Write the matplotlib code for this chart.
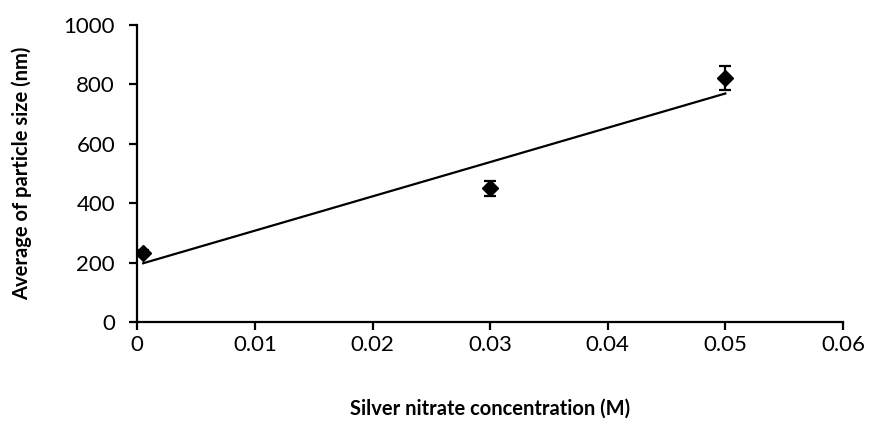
import numpy as np
import matplotlib
matplotlib.use("Agg")
import matplotlib.pyplot as plt

# silver nitrate concentration (M) vs. mean particle size (nm)
conc = [0.0005, 0.03, 0.05]
size_nm = [234, 450, 822]
size_err = [10, 24, 41]

x_ticks = [0, 0.01, 0.02, 0.03, 0.04, 0.05, 0.06]
x_labels = ["0", "0.01", "0.02", "0.03", "0.04", "0.05", "0.06"]
y_ticks = [0, 200, 400, 600, 800, 1000]

plt.rcParams['font.family'] = ['Lato', 'DejaVu Sans']

fig = plt.figure(figsize=(8.69, 4.29), dpi=100)
ax = fig.add_axes([0.158, 0.249, 0.812, 0.693])

# linear trend line over the data range
slope, intercept = np.polyfit(conc, size_nm, 1)
xs = np.array([conc[0], conc[-1]])
ax.plot(xs, slope * xs + intercept, color='black', lw=1.6)

ax.errorbar(conc, size_nm, yerr=size_err, fmt='D', color='black',
            ms=8, capsize=4.5, capthick=1.6, elinewidth=1.6)

ax.set_xlim(0, 0.06)
ax.set_ylim(0, 1000)
ax.set_xticks(x_ticks)
ax.set_xticklabels(x_labels)
ax.set_yticks(y_ticks)

for side in ['top', 'right']:
    ax.spines[side].set_visible(False)
for side in ['left', 'bottom']:
    ax.spines[side].set_linewidth(1.6)
ax.tick_params(direction='out', length=6, width=1.6, labelsize=16)
ax.tick_params(axis='x', pad=3)
ax.tick_params(axis='y', pad=10)

ax.set_xlabel("Silver nitrate concentration (M)", fontsize=14.5,
              fontweight='bold', va='center')
ax.set_ylabel("Average of particle size (nm)", fontsize=14.5,
              fontweight='bold', va='center')
ax.xaxis.set_label_coords(0.5, -0.29)
ax.yaxis.set_label_coords(-0.163, 0.5)

fig.savefig("out.png", dpi=100)
